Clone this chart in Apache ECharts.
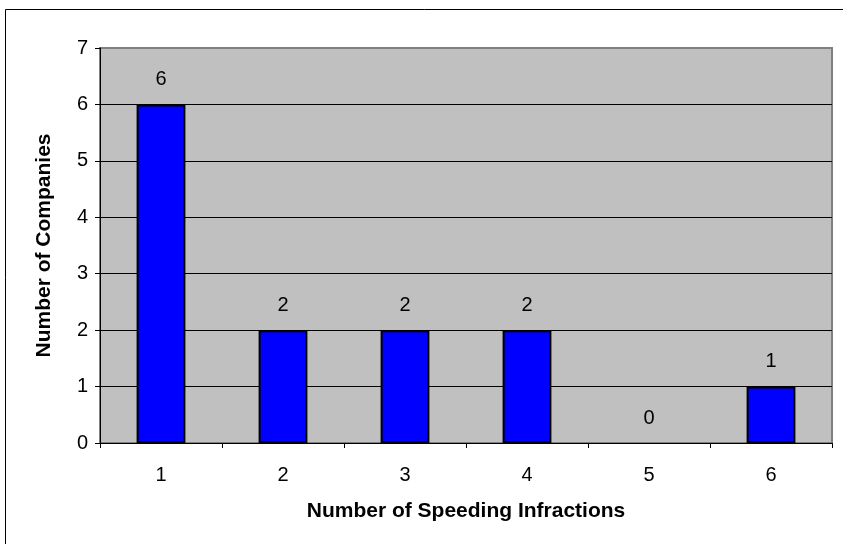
<!DOCTYPE html>
<html>
<head>
<meta charset="utf-8">
<script src="https://cdn.jsdelivr.net/npm/echarts@6/dist/echarts.min.js"></script>
<style>
    html, body { margin: 0; padding: 0; background: #fff; }
    #chart { width: 843px; height: 544px; }
</style>
</head>
<body>
<div id="chart"></div>
<script>
// data
var infractions = ['1', '2', '3', '4', '5', '6'];
var companies = [6, 2, 2, 2, 0, 1];
var yTicks = [0, 1, 2, 3, 4, 5, 6, 7];

var font = '"Liberation Sans", Arial, sans-serif';

var myChart = echarts.init(document.getElementById('chart'));

// gridline at the very top is grey like the plot border, the rest black
var splitColors = yTicks.map(function (v, i) {
    return i === yTicks.length - 1 ? '#808080' : '#000';
});

// an empty bar should not leave a black outline on the axis
var barData = companies.map(function (v) {
    return v === 0 ? { value: v, itemStyle: { borderWidth: 0 } } : v;
});

var option = {
    backgroundColor: '#fff',
    animation: false,
    textStyle: { fontFamily: font },
    graphic: [{
        type: 'rect',
        shape: { x: 5.5, y: 9.5, width: 900, height: 600 },
        style: { fill: 'none', stroke: '#000', lineWidth: 1 },
        silent: true
    }],
    grid: {
        left: 100,
        right: 11,
        top: 48,
        bottom: 101,
        show: true,
        backgroundColor: '#C0C0C0',
        borderColor: '#808080',
        borderWidth: 2
    },
    xAxis: {
        type: 'category',
        data: infractions,
        name: 'Number of Speeding Infractions',
        nameLocation: 'middle',
        nameGap: 58,
        nameTextStyle: { fontSize: 21, fontWeight: 'bold', color: '#000', fontFamily: font },
        axisLine: { lineStyle: { color: '#000', width: 1 } },
        axisTick: { show: true, length: 5, lineStyle: { color: '#000' } },
        axisLabel: { fontSize: 20, color: '#000', margin: 22, fontFamily: font },
        splitLine: { show: false }
    },
    yAxis: {
        type: 'value',
        min: 0,
        max: 7,
        interval: 1,
        name: 'Number of Companies',
        nameLocation: 'middle',
        nameGap: 45,
        nameTextStyle: { fontSize: 21, fontWeight: 'bold', color: '#000', fontFamily: font },
        axisLine: { show: true, lineStyle: { color: '#000', width: 1 } },
        axisTick: { show: true, length: 5, lineStyle: { color: '#000' } },
        axisLabel: { fontSize: 20, color: '#000', margin: 12, fontFamily: font },
        splitLine: { show: true, lineStyle: { color: splitColors, width: 1 } }
    },
    series: [{
        type: 'bar',
        data: barData,
        barWidth: '40%',
        itemStyle: { color: '#0000FF', borderColor: '#000', borderWidth: 2 },
        label: {
            show: true,
            position: 'top',
            distance: 15,
            fontSize: 20,
            color: '#000',
            fontFamily: font
        }
    }]
};

myChart.setOption(option);
</script>
</body>
</html>
